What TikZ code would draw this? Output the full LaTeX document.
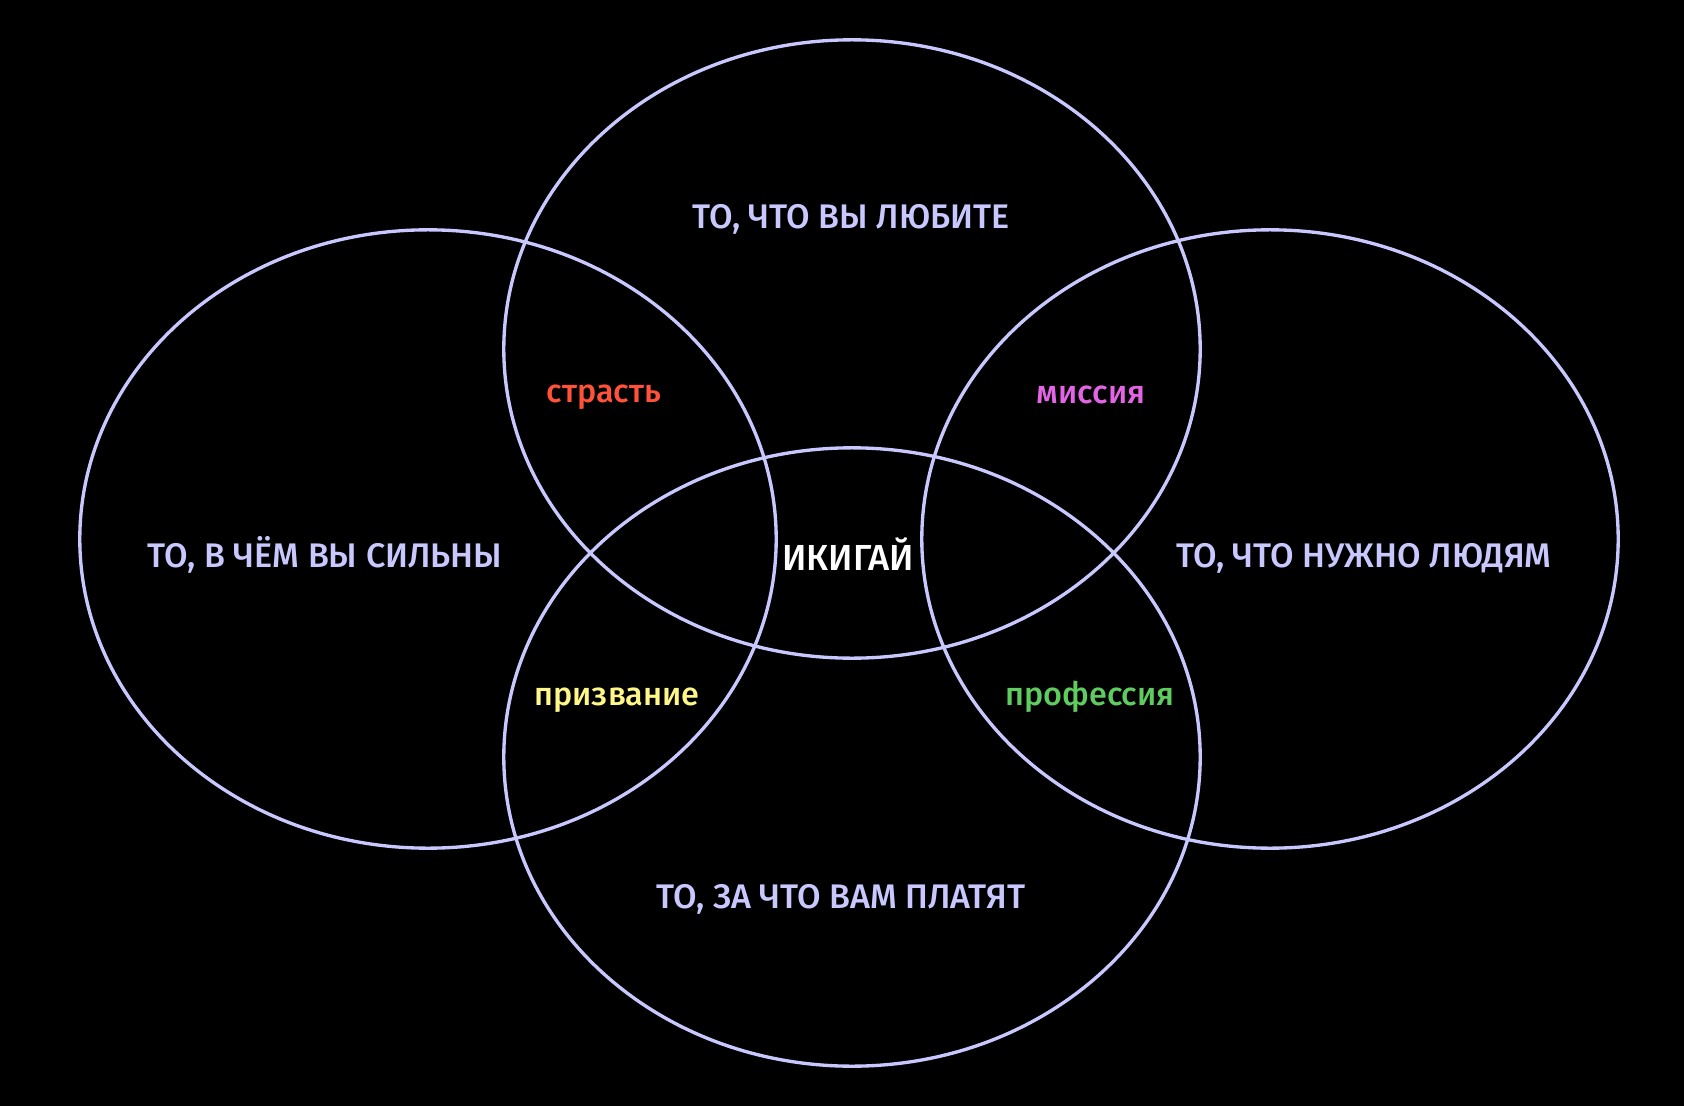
\documentclass[tikz,border=0pt]{standalone}
\usepackage{fontspec}
\setmainfont{Fira Sans}[UprightFont={* Medium}]
\usepackage{tikz}
\usetikzlibrary{positioning}
\definecolor{lavender}{RGB}{200,200,255}
\definecolor{passion}{RGB}{255,82,56}
\definecolor{mission}{RGB}{228,100,230}
\definecolor{vocation}{RGB}{255,247,135}
\definecolor{profession}{RGB}{94,204,94}

\begin{document}
\begin{tikzpicture}[x=0.01cm,y=-0.01cm,line width=0.95pt,
  circ/.style={draw=lavender},
  area/.style={anchor=base,text=lavender,font=\fontsize{9.7}{10}\selectfont},
  cross/.style={anchor=base,font=\fontsize{9.2}{10}\selectfont}]
        %%%%%%%%%%%%%%%%%%%%%%%%%%%background%%%%%%%%%%%%%%%%%%%%%%
          \fill[black] (0,0) rectangle (1684,1106);
          \useasboundingbox (0,0) rectangle (1684,1106);
        %%%%%%%%%%%%%%%%%%%%%%%%%%%circles%%%%%%%%%%%%%%%%%%%%%%
          \coordinate (love) at (852,349);
          \coordinate (pay) at (852,757);
          \coordinate (good) at (428,539);
          \coordinate (need) at (1270,539);

          \draw[circ] (love) ellipse [x radius=3.48cm, y radius=3.09cm];
          \draw[circ] (pay) ellipse [x radius=3.48cm, y radius=3.09cm];
          \draw[circ] (good) ellipse [x radius=3.48cm, y radius=3.09cm];
          \draw[circ] (need) ellipse [x radius=3.48cm, y radius=3.09cm];
        %%%%%%%%%%%%%%%%%%%%%%%%%%%labels%%%%%%%%%%%%%%%%%%%%%%
          \node (l1) at (851,228) [area] {ТО, ЧТО ВЫ ЛЮБИТЕ};
          \node (l2) at (325,567) [area] {ТО, В ЧЁМ ВЫ СИЛЬНЫ};
          \node (l3) at (1364,567) [area] {ТО, ЧТО НУЖНО ЛЮДЯМ};
          \node (l4) at (841,908) [area] {ТО, ЗА ЧТО ВАМ ПЛАТЯТ};

          \node (c1) at (604,402) [cross,text=passion] {страсть};
          \node (c2) at (1091,403) [cross,text=mission] {миссия};
          \node (c3) at (617,705) [cross,text=vocation] {призвание};
          \node (c4) at (1090,705) [cross,text=profession] {профессия};

          \node (ik) at (848,570) [anchor=base,text=white,font=\fontsize{10.3}{12}\selectfont] {ИКИГАЙ};
        \end{tikzpicture}
\end{document}
